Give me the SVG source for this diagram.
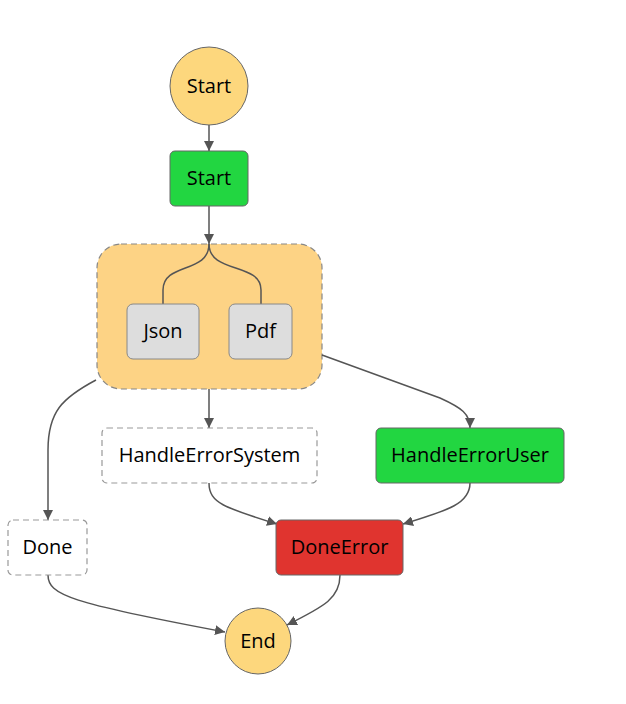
<svg xmlns="http://www.w3.org/2000/svg" width="626" height="704" viewBox="0 0 626 704">
<defs>
<marker id="ah" viewBox="0 0 10 10" refX="10" refY="5" markerWidth="10" markerHeight="10" markerUnits="userSpaceOnUse" orient="auto">
<path d="M0,0 L10,5 L0,10 z" fill="#555"/>
</marker>
</defs>
<style>
text{font-family:"Open Sans","Noto Sans","DejaVu Sans",sans-serif;font-size:20px;fill:#000;text-anchor:middle;dominant-baseline:central}
.c{fill:#fdd77d;stroke:#666;stroke-width:1}
.g{fill:#22d641;stroke:#666;stroke-width:1}
.r{fill:#e0342f;stroke:#666;stroke-width:1}
.gr{fill:#dddddd;stroke:#888;stroke-width:1}
.d{fill:#fff;stroke:#999;stroke-width:1.2;stroke-dasharray:6,4}
.p{fill:#fdd385;stroke:#888;stroke-width:1.2;stroke-dasharray:6,4}
.e{fill:none;stroke:#555;stroke-width:1.5}
</style>
<rect width="626" height="704" fill="#fff"/>
<g id="parallel"><rect class="p" x="97" y="244" width="225" height="145" rx="24"/></g>
<g id="connectors">
<path class="e" d="M209 125 L209 151" marker-end="url(#ah)"/>
<path class="e" d="M209 206 L209 244" marker-end="url(#ah)"/>
<path class="e" d="M209 244 C209 274 163 262 163 290 L163 304"/>
<path class="e" d="M209 244 C209 274 261 262 261 290 L261 304"/>
<path class="e" d="M209 389 L209 428" marker-end="url(#ah)"/>
<path class="e" d="M96 380 C62 398 48 412 48 450 L48 520" marker-end="url(#ah)"/>
<path class="e" d="M322 355 L440 398 C462 408 470 414 470 428" marker-end="url(#ah)"/>
<path class="e" d="M209 483 C209 503 225 508 277 524" marker-end="url(#ah)"/>
<path class="e" d="M470 483 C470 503 450 510 403 524" marker-end="url(#ah)"/>
<path class="e" d="M48 575 C48 595 70 603 225 632" marker-end="url(#ah)"/>
<path class="e" d="M340 575 C340 598 325 606 287 625" marker-end="url(#ah)"/>
</g>
<g id="start-circle"><circle class="c" cx="209" cy="86" r="39"/><text x="209" y="85">Start</text></g>
<g id="start"><rect class="g" x="170" y="151" width="78" height="55" rx="5"/><text x="209" y="177.5">Start</text></g>
<g id="json"><rect class="gr" x="127" y="304" width="72" height="55" rx="6"/><text x="163" y="330.5">Json</text></g>
<g id="pdf"><rect class="gr" x="229" y="304" width="63" height="55" rx="6"/><text x="260.5" y="330.5">Pdf</text></g>
<g id="handle-error-system"><rect class="d" x="102" y="428" width="215" height="55" rx="5"/><text x="209.5" y="454.5">HandleErrorSystem</text></g>
<g id="handle-error-user"><rect class="g" x="376" y="428" width="188" height="55" rx="5"/><text x="470" y="454.5">HandleErrorUser</text></g>
<g id="done"><rect class="d" x="8" y="520" width="79" height="55" rx="5"/><text x="47.5" y="546.5">Done</text></g>
<g id="done-error"><rect class="r" x="276" y="520" width="127" height="55" rx="5"/><text x="339.5" y="546.5">DoneError</text></g>
<g id="end"><circle class="c" cx="258" cy="641" r="33"/><text x="258" y="640">End</text></g>
</svg>
